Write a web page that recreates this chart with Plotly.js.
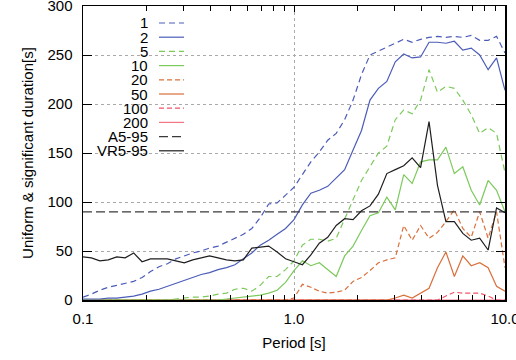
<!DOCTYPE html>
<html><head><meta charset="utf-8">
<script src="https://cdn.plot.ly/plotly-3.0.1.min.js"></script>
<style>html,body{margin:0;padding:0;background:#fff}#chart{width:516px;height:360px}</style>
</head><body><div id="chart"></div>
<script>
// Period [s]
const periods = [0.1,0.1096,0.1202,0.1318,0.1445,0.1585,0.1738,0.1905,0.2089,0.2291,
 0.2512,0.2754,0.3020,0.3311,0.3631,0.3981,0.4365,0.4786,0.5248,0.5754,
 0.6310,0.6918,0.7586,0.8318,0.9120,1.0,1.096,1.202,1.318,1.445,
 1.585,1.738,1.905,2.089,2.291,2.512,2.754,3.020,3.311,3.631,
 3.981,4.365,4.786,5.248,5.754,6.310,6.918,7.586,8.318,9.120,10.0];

const dur1 = [3,6,10,13,15,17,19,23,29,34, 37,42,45,48,50,53,55,59,63,67, 73,84,98,99,107,115,128,141,151,163,
 170,184,204,230,250,254,258,262,266,263, 266,268,269,268,269,268,270,265,265,269, 252];
const dur2 = [1,1,1,2,2,3,4,6,9,11, 14,17,20,23,26,28,31,33,36,42, 48,56,61,67,73,82,97,109,112,116,
 124,133,153,173,204,216,223,243,251,247, 248,263,263,262,264,255,257,250,235,247, 214];
const dur5 = [0,0,0,0,0,0,0,0,0,0, 0,1,2,3,3,4,6,7,11,12, 9,15,24,24,31,40,56,62,62,60,
 63,83,102,122,136,150,157,184,194,190, 204,235,212,218,216,204,189,170,176,170, 130];
const dur10 = [0,0,0,0,0,0,0,0,0,0, 0,0,0,0,0,0,0,1,2,3, 4,5,7,10,18,30,40,35,38,31,
 24,45,55,71,86,89,105,92,128,119, 141,143,143,156,129,136,112,97,122,112, 90];
const dur20 = [0,0,0,0,0,0,0,0,0,0, 0,0,0,0,0,0,0,0,0,0, 0,0,0,0,0,2,16,13,9,7,
 8,10,19,23,30,38,41,43,76,61, 76,63,69,80,92,73,64,90,63,90, 33];
const dur50 = [0,0,0,0,0,0,0,0,0,0, 0,0,0,0,0,0,0,0,0,0, 0,0,0,0,0,0,0,0,0,0,
 0,0,0,0,0,0,0,2,5,2, 7,12,33,49,24,45,35,38,33,14, 9];
const dur100 = [0,0,0,0,0,0,0,0,0,0, 0,0,0,0,0,0,0,0,0,0, 0,0,0,0,0,0,0,0,0,0,
 0,0,0,0,0,0,0,0,0,0, 0,0,0,4,8,7,7,7,4,0, 0];
const dur200 = [0,0,0,0,0,0,0,0,0,0, 0,0,0,0,0,0,0,0,0,0, 0,0,0,0,0,0,0,0,0,0,
 0,0,0,0,0,0,0,0,0,0, 0,0,0,0,0,0,0,0,0,0, 0];
const a5Periods = [0.1, 10];
const a5Values = [90, 90];
const vr595 = [44,43,40,41,44,43,48,39,42,42, 42,40,38,41,43,45,43,41,40,41, 53,54,55,49,42,39,36,46,58,64,
 76,83,82,91,96,108,129,133,137,145, 135,182,117,80,80,68,61,63,51,94, 89];

const seriesNames = ['1','2','5','10','20','50','100','200','A5-95','VR5-95'];
const xTickVals = [0.1, 1, 10];
const xTickText = ['0.1','1.0','10.0'];
const yTickVals = [0,50,100,150,200,250,300];
const minorTickVals = [0.2,0.3,0.4,0.5,0.6,0.7,0.8,0.9,2,3,4,5,6,7,8,9];

const styles = [
  {color:'#4b5cb8', dash:'6px,4px'},
  {color:'#4b5cb8', dash:'solid'},
  {color:'#7cc95c', dash:'6px,4px'},
  {color:'#7cc95c', dash:'solid'},
  {color:'#d9703c', dash:'5px,3px'},
  {color:'#d9703c', dash:'solid'},
  {color:'#f0556a', dash:'5px,3px'},
  {color:'#f07585', dash:'solid'},
  {color:'#3a3a3a', dash:'9px,4px'},
  {color:'#1e1e1e', dash:'solid'}
];
const xs = [periods,periods,periods,periods,periods,periods,periods,periods,a5Periods,periods];
const ys = [dur1,dur2,dur5,dur10,dur20,dur50,dur100,dur200,a5Values,vr595];

const drawOrder = [7,6,5,4,3,2,1,0,8,9];
const traces = drawOrder.map(i => ({
  type:'scatter', mode:'lines', x: xs[i], y: ys[i], name: seriesNames[i],
  line:{color:styles[i].color, dash:styles[i].dash, width:1.2}, showlegend:false, hoverinfo:'skip'
}));
// minor tick carrier axis
traces.push({type:'scatter', mode:'lines', x:[0.1,10], y:[null,null], xaxis:'x2', yaxis:'y', showlegend:false, hoverinfo:'skip'});

const L = 83, R = 505, T = 6, B = 300;
const px2x = p => (p - L) / (R - L);
const py2y = p => (B - p) / (B - T);

const shapes = [{type:'rect', xref:'paper', yref:'paper', x0:px2x(83.5), x1:px2x(191), y0:py2y(158), y1:py2y(6.5),
  fillcolor:'#ffffff', line:{width:0}, layer:'between'}];
const annotations = [];
seriesNames.forEach((n, i) => {
  const py = 23 + i * 14.2;
  annotations.push({xref:'paper', yref:'paper', x:px2x(150), y:py2y(py), xanchor:'right', yanchor:'middle',
    text:n, showarrow:false, font:{size:15, color:'#000'}});
  shapes.push({type:'line', xref:'paper', yref:'paper', x0:px2x(159), x1:px2x(184), y0:py2y(py), y1:py2y(py),
    line:{color:styles[i].color, dash:styles[i].dash, width:1.2}, layer:'above'});
});

const axFont = {family:'Liberation Sans, Arial, sans-serif', size:15, color:'#000'};
const layout = {
  width:516, height:360,
  margin:{l:L, r:516-R, t:T, b:360-B},
  paper_bgcolor:'#fff', plot_bgcolor:'#fff',
  font:axFont,
  showlegend:false,
  xaxis:{type:'log', range:[-1,1], tickvals:xTickVals, ticktext:xTickText,
    ticks:'inside', ticklen:6, tickwidth:1, tickcolor:'#000',
    showline:true, linecolor:'#000', linewidth:1.5, mirror:'ticks',
    showgrid:true, gridcolor:'#aaaaaa', griddash:'dot', gridwidth:1, zeroline:false,
    tickfont:axFont, ticklabelstandoff:4, ticklabeloverflow:'allow',
    title:{text:'Period [s]', font:axFont, standoff:12}},
  xaxis2:{type:'log', range:[-1,1], overlaying:'x', anchor:'y', side:'bottom',
    tickvals:minorTickVals, showticklabels:false, ticks:'inside', ticklen:5, tickwidth:1, tickcolor:'#000',
    mirror:'ticks', showline:false, showgrid:false, zeroline:false},
  yaxis:{range:[0,300], tickvals:yTickVals,
    ticks:'inside', ticklen:9, tickwidth:1, tickcolor:'#000',
    showline:true, linecolor:'#000', linewidth:1.5, mirror:'ticks',
    showgrid:true, gridcolor:'#aaaaaa', griddash:'dot', gridwidth:1, zeroline:false,
    tickfont:axFont, ticklabelstandoff:6, ticklabeloverflow:'allow',
    title:{text:'Uniform & significant duration[s]', font:axFont, standoff:10}},
  shapes:shapes, annotations:annotations
};
Plotly.newPlot('chart', traces, layout, {staticPlot:true, displayModeBar:false});
</script></body></html>
